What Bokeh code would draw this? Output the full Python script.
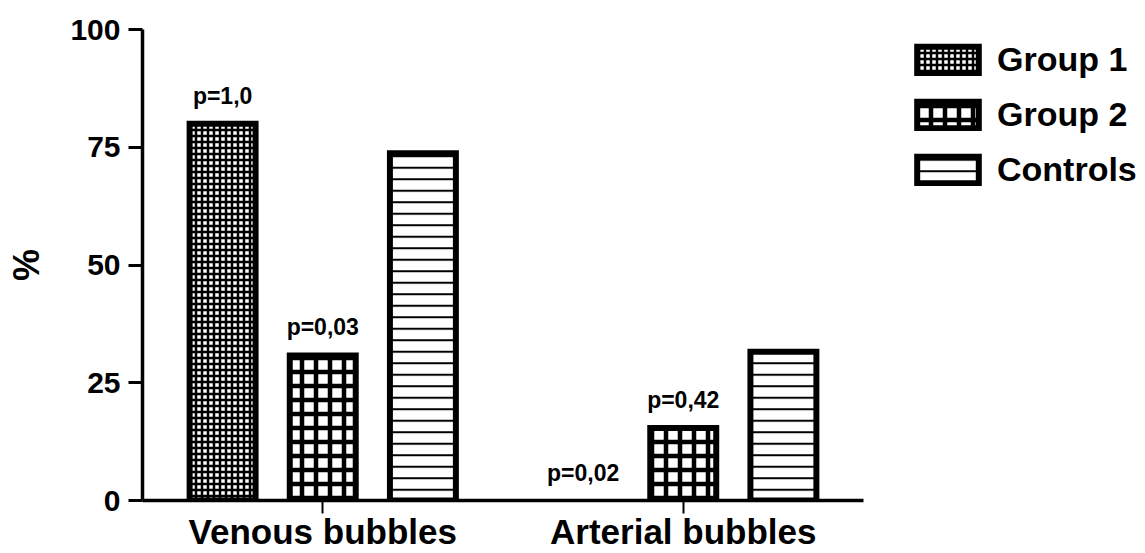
from bokeh.plotting import figure
from bokeh.models import (Range1d, FixedTicker, Legend, LegendItem,
                          CDSView, BooleanFilter, ColumnDataSource)
from bokeh.transform import dodge
from bokeh.core.properties import value
from bokeh.embed import file_html
from bokeh.resources import INLINE

# ---------------- data ----------------
categories = ["Venous bubbles", "Arterial bubbles"]
series_names = ["Group 1", "Group 2", "Controls"]
group1 = [80.0, 0.0]
group2 = [30.8, 15.4]
controls = [73.7, 31.6]
group1_p = ["p=1,0", "p=0,02"]
group2_p = ["p=0,03", "p=0,42"]
y_ticks = [0, 25, 50, 75, 100]
y_label = "%"

FONT = "Liberation Sans"
W, H = 1145, 553
LEFT, TOP = 142, 29
OFF = 0.2778   # dodge offset (category units)
BW = 0.183     # bar width (category units)

n_cat = len(categories)
xc = [i + 0.5 for i in range(n_cat)]
frame_w = W - LEFT
x_end = n_cat * frame_w / 721.0   # axis occupies 721 px for the categories

src = ColumnDataSource(dict(xc=xc, g1=group1, g2=group2, ctl=controls,
                            p1=group1_p, p2=group2_p))

p = figure(width=W, height=H,
           x_range=Range1d(0, x_end),
           y_range=Range1d(0, 100),
           output_backend="svg", toolbar_location=None,
           min_border_left=LEFT, min_border_right=0,
           min_border_top=TOP, min_border_bottom=0)

p.outline_line_color = None
p.xgrid.visible = False
p.ygrid.visible = False
p.background_fill_color = "white"
p.border_fill_color = "white"

common = dict(width=BW, bottom=0, source=src, fill_color="white",
              line_color="black", line_width=6, line_join="miter",
              hatch_color="black")

view1 = CDSView(filter=BooleanFilter([v > 0 for v in group1]))
r1 = p.vbar(x=dodge("xc", -OFF), top="g1", view=view1,
            hatch_pattern="cross", hatch_scale=6, hatch_weight=2.5, **common)
r2 = p.vbar(x=dodge("xc", 0), top="g2",
            hatch_pattern="cross", hatch_scale=14, hatch_weight=4.5, **common)
r3 = p.vbar(x=dodge("xc", OFF), top="ctl",
            hatch_pattern="horizontal_line", hatch_scale=11.5, hatch_weight=2,
            **common)

txt = dict(source=src, text_font=value(FONT), text_font_style="bold",
           text_font_size="23px", text_align="center",
           text_baseline="bottom", text_color="black", y_offset=-15)
p.text(x=dodge("xc", -OFF), y="g1", text="p1", **txt)
p.text(x=dodge("xc", 0), y="g2", text="p2", **txt)

# y axis
ya = p.yaxis[0]
ya.ticker = FixedTicker(ticks=y_ticks)
ya.minor_tick_line_color = None
ya.major_tick_in = 0
ya.major_tick_out = 14
ya.major_tick_line_width = 3
ya.axis_line_width = 3.5
ya.major_label_standoff = 8
ya.major_label_text_font = FONT
ya.major_label_text_font_style = "bold"
ya.major_label_text_font_size = "30px"
ya.major_label_text_color = "black"
ya.axis_label = y_label
ya.axis_label_text_font = FONT
ya.axis_label_text_font_style = "bold"
ya.axis_label_text_font_size = "36px"
ya.axis_label_text_color = "black"
ya.axis_label_standoff = 20

# x axis
xa = p.xaxis[0]
xa.ticker = FixedTicker(ticks=xc)
xa.major_label_overrides = {x: c for x, c in zip(xc, categories)}
xa.bounds = (0, n_cat)
xa.minor_tick_line_color = None
xa.major_tick_in = 0
xa.major_tick_out = 13
xa.major_tick_line_width = 2
xa.axis_line_width = 3.5
xa.major_label_standoff = -2
xa.major_label_text_font = FONT
xa.major_label_text_font_style = "bold"
xa.major_label_text_font_size = "35px"
xa.major_label_text_color = "black"

legend = Legend(items=[LegendItem(label=series_names[0], renderers=[r1]),
                       LegendItem(label=series_names[1], renderers=[r2]),
                       LegendItem(label=series_names[2], renderers=[r3])],
                location=(767, 311), orientation="vertical",
                glyph_width=77, glyph_height=33, label_standoff=11,
                spacing=16, padding=0, margin=0,
                border_line_color=None, background_fill_alpha=0,
                label_text_font=FONT, label_text_font_style="bold",
                label_text_font_size="34px", label_text_color="black")
p.add_layout(legend)

open("out.html", "w").write(file_html(p, INLINE))
